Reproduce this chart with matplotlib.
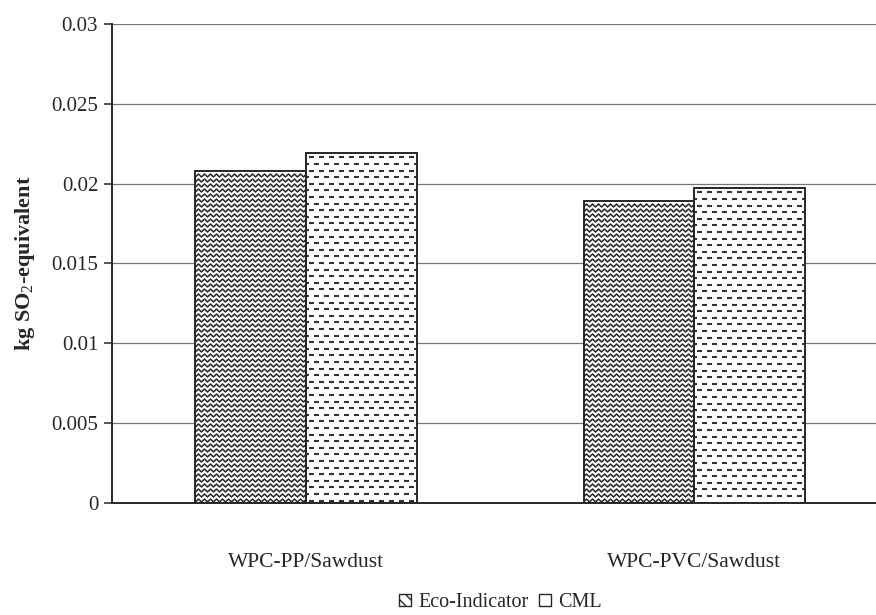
import numpy as np
import matplotlib
matplotlib.use("Agg")
import matplotlib.pyplot as plt
from matplotlib.collections import LineCollection
from matplotlib.patches import Patch
from matplotlib.transforms import IdentityTransform

# Acidification potential per functional unit
categories = ["WPC-PP/Sawdust", "WPC-PVC/Sawdust"]
eco_indicator = [0.0208, 0.0189]
cml = [0.0219, 0.0197]
y_ticks = [0, 0.005, 0.01, 0.015, 0.02, 0.025, 0.03]
y_tick_labels = ["0", "0.005", "0.01", "0.015", "0.02", "0.025", "0.03"]

plt.rcParams["font.family"] = ["Liberation Serif", "DejaVu Serif"]
plt.rcParams["mathtext.fontset"] = "custom"
plt.rcParams["mathtext.rm"] = "Liberation Serif"
plt.rcParams["mathtext.bf"] = "Liberation Serif:bold"

DPI = 100
fig = plt.figure(figsize=(8.76, 6.15), dpi=DPI, facecolor="white")
ax = fig.add_axes([0.1279, 0.1821, 0.886, 0.7789])

ink = "#262626"
x = np.arange(len(categories))
w = 0.285

ax.set_xlim(-0.5, 1.5)
ax.set_ylim(0, 0.03)

eco_bars = ax.bar(x - w / 2, eco_indicator, w, color="white", edgecolor="none", zorder=2)
cml_bars = ax.bar(x + w / 2, cml, w, color="white", edgecolor="none", zorder=2)


def zigzag_fill(bar, period=6.0, amp=1.5, step=5.0):
    # wavy fill, drawn in pixel space and trimmed to the bar box
    x0, y0, x1, y1 = bar.get_window_extent().extents
    xs = np.arange(x0, x1 + period / 2, period / 2)
    xs[-1] = min(xs[-1], x1)
    phase = (xs - x0) / (period / 2)
    offs = amp * (1 - 2 * np.abs((phase % 2) - 1))
    lines = []
    for yy in np.arange(y0 + amp + 1, y1 - amp - 1, step):
        lines.append(np.column_stack([xs, yy + offs]))
    ax.add_collection(LineCollection(lines, colors=ink, linewidths=1.1,
                                     transform=IdentityTransform(), zorder=2.5),
                      autolim=False)


def dash_fill(bar, period=10.0, dash=5.3, step=6.6):
    x0, y0, x1, y1 = bar.get_window_extent().extents
    segs = []
    for i, yy in enumerate(np.arange(y1 - 4, y0 + 1, -step)):
        shift = (period / 2) * (i % 2)
        for xx in np.arange(x0 + 3 + shift - period, x1, period):
            a, b = max(xx, x0 + 1), min(xx + dash, x1 - 1)
            if b - a > 1:
                segs.append([(a, yy), (b, yy)])
    ax.add_collection(LineCollection(segs, colors="#333333", linewidths=1.5,
                                     transform=IdentityTransform(), zorder=2.5),
                      autolim=False)


for b in eco_bars:
    zigzag_fill(b)
for b in cml_bars:
    dash_fill(b)

# outlines on top of the fill patterns
ax.bar(x - w / 2, eco_indicator, w, fill=False, edgecolor=ink, linewidth=1.4, zorder=3)
ax.bar(x + w / 2, cml, w, fill=False, edgecolor=ink, linewidth=1.4, zorder=3)

ax.set_yticks(y_ticks)
ax.set_yticklabels(y_tick_labels, fontsize=15, color=ink)
ax.yaxis.grid(True, color="#777777", linewidth=0.9)
ax.set_axisbelow(True)

ax.set_xticks(x)
ax.set_xticklabels(categories, fontsize=15.5, color=ink)
ax.tick_params(axis="x", length=0, pad=36)
ax.tick_params(axis="y", length=6, width=1.1, color=ink, pad=4)

for side in ["top", "right"]:
    ax.spines[side].set_visible(False)
for side in ["left", "bottom"]:
    ax.spines[side].set_color(ink)
    ax.spines[side].set_linewidth(1.4)

ax.set_ylabel(r"kg SO$_{2}$-equivalent", fontsize=16, fontweight="bold", color=ink,
              va="center")
ax.yaxis.set_label_coords(-0.112, 0.5)

handles = [
    Patch(facecolor="white", edgecolor=ink, hatch="\\\\\\", linewidth=1.0),
    Patch(facecolor="white", edgecolor=ink, hatch="-", linewidth=1.0),
]
fig.legend(handles, ["Eco-Indicator", "CML"], loc="center", bbox_to_anchor=(0.571, 0.02),
           ncol=2, frameon=False, fontsize=14.5, handlelength=0.6, handleheight=0.6,
           handletextpad=0.35, columnspacing=0.5, labelcolor=ink)

fig.savefig("out.png", dpi=DPI, facecolor="white")
